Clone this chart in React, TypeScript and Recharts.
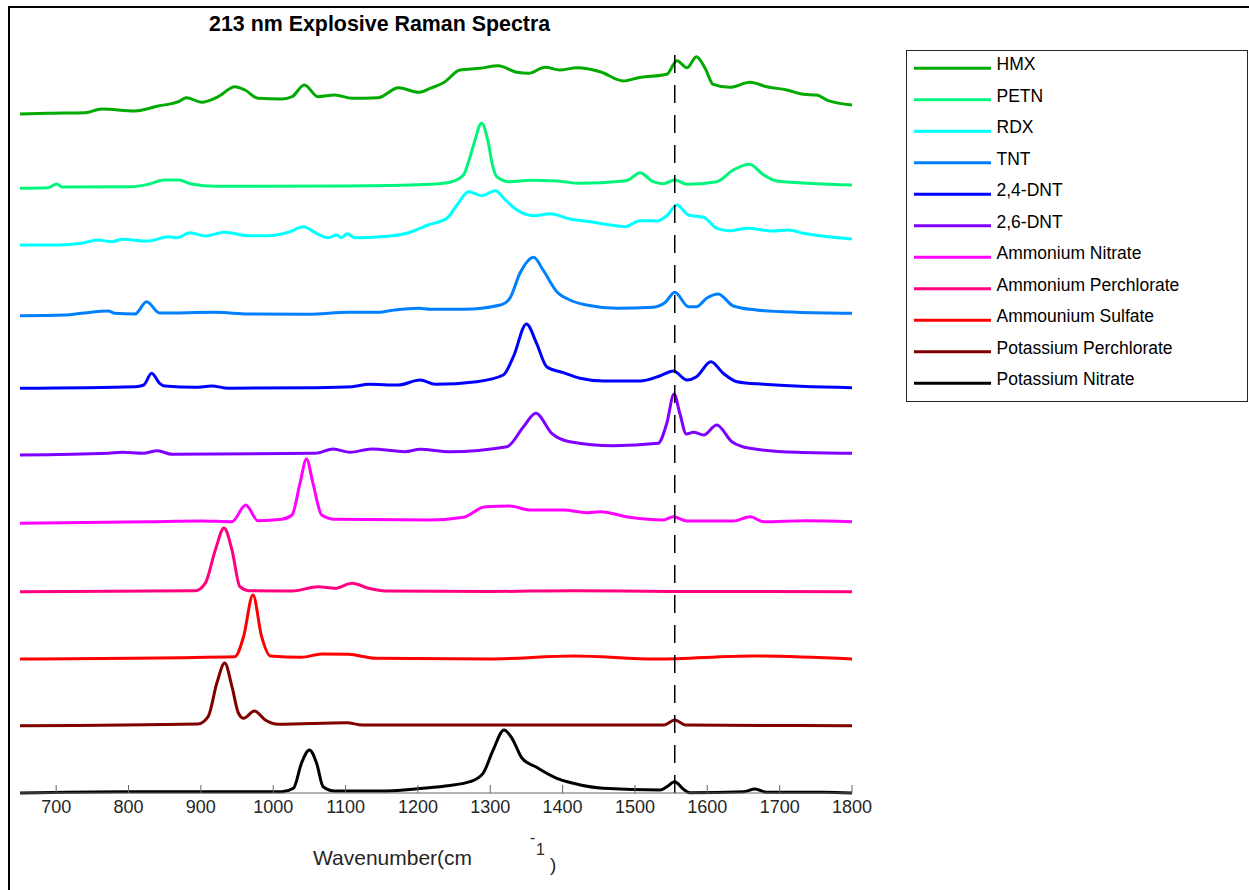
import React from 'react'
import { LineChart, Line, XAxis, YAxis, ReferenceLine } from 'recharts'

type Pt = [number, number]

// wavenumber (cm-1) vs offset intensity
const wavenumberTicks = [700, 800, 900, 1000, 1100, 1200, 1300, 1400, 1500, 1600, 1700, 1800]
const markerLine = 1555

const hmx: Pt[] = [
  [650, 679], [689, 679.7], [740, 680.3], [763, 684], [809, 682], [841, 687], [869, 691.3], [880, 695.3],
  [901, 690.7], [924, 696.3], [947, 706.3], [961, 703], [979, 694.7], [1012, 694], [1026, 696.3], [1043, 708],
  [1062, 696.3], [1085, 698], [1109, 694.7], [1145, 695.3], [1173, 705.3], [1201, 700.7], [1217, 704.7],
  [1237, 711], [1258, 723], [1286, 724.7], [1311, 727.3], [1337, 720.7], [1353, 719.7], [1376, 725.7],
  [1396, 723], [1420, 725.3], [1452, 721.3], [1484, 712], [1505, 715.3], [1544, 718.7], [1558, 732.3],
  [1572, 725.3], [1585, 736.3], [1597, 724.7], [1608, 708.7], [1631, 705.7], [1659, 710.7], [1682, 706.3],
  [1710, 703], [1733, 698.7], [1751, 698], [1767, 692.3], [1800, 688],
]

const petn: Pt[] = [
  [650, 604.7], [689, 605.3], [701, 609], [708, 606], [804, 606.3], [827, 608.7], [850, 613], [869, 613],
  [887, 609], [920, 606.7], [1100, 607], [1217, 608.7], [1244, 610.7], [1263, 618], [1270, 631.3], [1277, 648],
  [1288, 669.7], [1297, 651.3], [1303, 628], [1309, 616.3], [1327, 611.3], [1355, 612.7], [1392, 612],
  [1424, 609.7], [1484, 612], [1491, 613], [1507, 620.3], [1525, 611.3], [1539, 609.3], [1555, 613],
  [1572, 608.7], [1613, 611.3], [1636, 623], [1658, 628.7], [1678, 618], [1696, 612], [1800, 608],
]

const rdx: Pt[] = [
  [650, 548], [703, 548], [735, 549.7], [758, 553], [777, 551.3], [791, 553.7], [827, 552], [855, 556.3],
  [867, 555.3], [885, 560.3], [906, 557], [933, 560.7], [966, 557.3], [993, 557.3], [1021, 560.7], [1042, 566.3],
  [1058, 560.3], [1076, 555.3], [1088, 558], [1094, 555.3], [1102, 559.3], [1113, 555.3], [1150, 556.3],
  [1187, 560.3], [1214, 568], [1240, 574.7], [1254, 588], [1270, 601.3], [1288, 597.3], [1307, 602.3],
  [1321, 593], [1337, 583], [1360, 577.3], [1383, 579.3], [1410, 574], [1438, 571.3], [1466, 568],
  [1486, 566.3], [1507, 572.3], [1530, 572], [1544, 577.3], [1558, 588], [1574, 578], [1595, 575.7],
  [1613, 564.7], [1631, 562.3], [1655, 564.7], [1691, 562], [1712, 563], [1733, 559.7], [1800, 554],
]

const tnt: Pt[] = [
  [650, 477.3], [712, 478], [735, 479.7], [772, 482], [781, 479.7], [809, 479], [825, 491.3], [843, 480],
  [920, 480.7], [966, 479], [1049, 478.7], [1104, 480.7], [1145, 480.7], [1168, 483], [1201, 484.7],
  [1217, 483.7], [1263, 483.7], [1314, 488], [1327, 494.7], [1341, 519.7], [1360, 535.7], [1373, 523],
  [1392, 501.3], [1410, 493], [1433, 488], [1475, 484.7], [1525, 485.7], [1542, 490.7], [1555, 500.7],
  [1574, 486.3], [1585, 486.3], [1599, 494.7], [1615, 499], [1636, 487], [1668, 483], [1723, 480.7],
  [1800, 479.7],
]

const dnt24: Pt[] = [
  [650, 404.7], [809, 406.3], [821, 408], [832, 419.7], [843, 409.7], [850, 407], [892, 405.7], [915, 407],
  [938, 404.7], [1058, 405.3], [1109, 406.3], [1132, 408.7], [1173, 408], [1203, 413], [1224, 408.7],
  [1281, 411.3], [1318, 418], [1332, 436.3], [1350, 469], [1364, 449.7], [1378, 426.3], [1401, 420.3],
  [1424, 414.7], [1456, 412], [1507, 412], [1535, 417.3], [1553, 422], [1572, 413], [1585, 416.3],
  [1605, 431.3], [1622, 419.7], [1641, 411.3], [1678, 408.7], [1800, 405.3],
]

const dnt26: Pt[] = [
  [650, 338], [772, 339.7], [791, 340.7], [820, 339.7], [840, 342.3], [860, 338.7], [1058, 339.7], [1083, 344],
  [1106, 340.7], [1136, 344], [1182, 341.3], [1203, 343.7], [1244, 341.3], [1323, 346.3], [1346, 366.3],
  [1363, 379.7], [1385, 359.7], [1410, 351.3], [1470, 347.3], [1532, 349.7], [1544, 369.7], [1554, 399],
  [1562, 379.7], [1571, 359], [1581, 360.7], [1595, 358], [1613, 368], [1634, 351.3], [1659, 344.7],
  [1724, 340.7], [1800, 339.7],
]

const ammoniumNitrate: Pt[] = [
  [650, 269.7], [827, 271.3], [901, 272], [943, 271.3], [962, 288], [979, 272.3], [1012, 273.7], [1026, 278],
  [1037, 309.7], [1046, 334], [1055, 309.7], [1067, 278], [1085, 273.7], [1217, 273], [1263, 275.7],
  [1293, 286.3], [1327, 287], [1355, 283], [1401, 283], [1433, 280.3], [1452, 281.3], [1493, 275.7],
  [1539, 273], [1553, 276.3], [1572, 272], [1636, 272], [1659, 276.3], [1678, 271.3], [1737, 272.3],
  [1800, 271.3],
]

const ammoniumPerchlorate: Pt[] = [
  [650, 201.3], [892, 202.3], [906, 209.7], [920, 243], [932, 265], [943, 243], [954, 206.3], [966, 202.3],
  [1026, 202], [1062, 206.3], [1085, 204.7], [1109, 209.7], [1132, 204.7], [1155, 202], [1300, 201.5],
  [1414, 202.3], [1550, 201.5], [1800, 201.3],
]

const ammoniumSulfate: Pt[] = [
  [650, 134], [947, 136.3], [959, 156.3], [972, 198], [984, 156.3], [996, 137], [1039, 135.7], [1067, 139],
  [1104, 138.7], [1141, 134.7], [1300, 134], [1415, 137], [1530, 134], [1663, 137], [1800, 134],
]

const potassiumPerchlorate: Pt[] = [
  [650, 67.3], [896, 69], [910, 76.3], [922, 109.7], [933, 130], [943, 106.3], [952, 79.7], [959, 74.7],
  [974, 82], [989, 73], [1007, 68.7], [1102, 70.3], [1123, 68], [1540, 68], [1555, 73], [1570, 68],
  [1800, 67.3],
]

const potassiumNitrate: Pt[] = [
  [650, 0], [795, 1.3], [1012, 1.3], [1028, 4.7], [1039, 29.7], [1050, 43], [1060, 29.7], [1069, 6.3],
  [1085, 2], [1150, 2], [1196, 4], [1238, 7], [1272, 11.3], [1290, 19.7], [1304, 43], [1319, 63],
  [1330, 54.7], [1344, 34.7], [1364, 25.7], [1392, 14.7], [1415, 9.7], [1456, 4.7], [1535, 3], [1544, 6.3],
  [1555, 11.3], [1567, 3.7], [1576, 0.3], [1650, 1.3], [1666, 4], [1682, 0.7], [1761, 0.7], [1800, 0],
]

const seriesNames = [
  'HMX', 'PETN', 'RDX', 'TNT', '2,4-DNT', '2,6-DNT', 'Ammonium Nitrate', 'Ammonium Perchlorate',
  'Ammounium Sulfate', 'Potassium Perchlorate', 'Potassium Nitrate',
]
const seriesColors = [
  '#00aa00', '#00f57a', '#00ffff', '#0080ff', '#0000ff', '#8000ff', '#ff00ff', '#ff0080',
  '#ff0000', '#800000', '#000000',
]
const seriesPoints = [
  hmx, petn, rdx, tnt, dnt24, dnt26, ammoniumNitrate, ammoniumPerchlorate,
  ammoniumSulfate, potassiumPerchlorate, potassiumNitrate,
]

const FONT = '"Liberation Sans", Arial, sans-serif'

function SpectraLegend() {
  return (
    <svg width={343} height={353} style={{ position: 'absolute', left: 906, top: 50, fontFamily: FONT }}>
      <rect x={0.5} y={0.5} width={341} height={351} fill="#fff" stroke="#262626" strokeWidth={1} />
      {seriesNames.map((name, i) => (
        <g key={name}>
          <line x1={8} x2={85} y1={18.3 + 31.5 * i} y2={18.3 + 31.5 * i} stroke={seriesColors[i]} strokeWidth={3} />
          <text x={90.5} y={20 + 31.5 * i} fontSize={17.5} fill="#000">{name}</text>
        </g>
      ))}
    </svg>
  )
}

export default function App() {
  return (
    <div style={{ position: 'relative', width: 1249, height: 890, overflow: 'hidden', fontFamily: FONT, background: '#fff' }}>
      <style>{'html, body { margin: 0; padding: 0; overflow: hidden; }'}</style>
      <div style={{ position: 'absolute', left: 0, top: 0 }}>
        <LineChart
          width={1249}
          height={890}
          margin={{ top: 49, right: 397, bottom: 0, left: 20 }}
          style={{ fontFamily: FONT }}
        >
          <XAxis
            dataKey="x"
            type="number"
            domain={[650, 1800]}
            ticks={wavenumberTicks}
            height={97}
            stroke="#666"
            tickSize={-8}
            tickMargin={15}
            tick={{ fontSize: 18, fill: '#262626' }}
            allowDuplicatedCategory={false}
          />
          <YAxis type="number" domain={[0, 744]} width={0} tick={false} tickLine={false} stroke="#666" />
          {seriesPoints.map((pts, i) => (
            <Line
              key={seriesNames[i]}
              name={seriesNames[i]}
              data={pts.map(([x, y]) => ({ x, y }))}
              dataKey="y"
              type="monotone"
              stroke={seriesColors[i]}
              strokeWidth={3}
              dot={false}
              isAnimationActive={false}
            />
          ))}
          <ReferenceLine x={markerLine} stroke="#000" strokeWidth={1.5} strokeDasharray="18 12" />
        </LineChart>
      </div>
      <SpectraLegend />
      <div style={{ position: 'absolute', left: 209, top: 13.6, fontSize: 21.4, fontWeight: 'bold', lineHeight: 1, whiteSpace: 'nowrap' }}>
        213 nm Explosive Raman Spectra
      </div>
      <div style={{ position: 'absolute', left: 313, top: 847.2, fontSize: 21, lineHeight: 1, color: '#262626', whiteSpace: 'nowrap' }}>
        Wavenumber(cm
      </div>
      <div style={{ position: 'absolute', left: 530, top: 830, fontSize: 16, lineHeight: 1, color: '#262626' }}>-</div>
      <div style={{ position: 'absolute', left: 536, top: 841.5, fontSize: 16, lineHeight: 1, color: '#262626' }}>1</div>
      <div style={{ position: 'absolute', left: 550, top: 855, fontSize: 19, lineHeight: 1, color: '#262626' }}>)</div>
      <svg width={1249} height={890} style={{ position: 'absolute', left: 0, top: 0, pointerEvents: 'none' }}>
        <line x1={9} x2={9} y1={6} y2={890} stroke="#000" strokeWidth={2} />
        <line x1={8} x2={1249} y1={7} y2={7} stroke="#000" strokeWidth={2} />
      </svg>
    </div>
  )
}
